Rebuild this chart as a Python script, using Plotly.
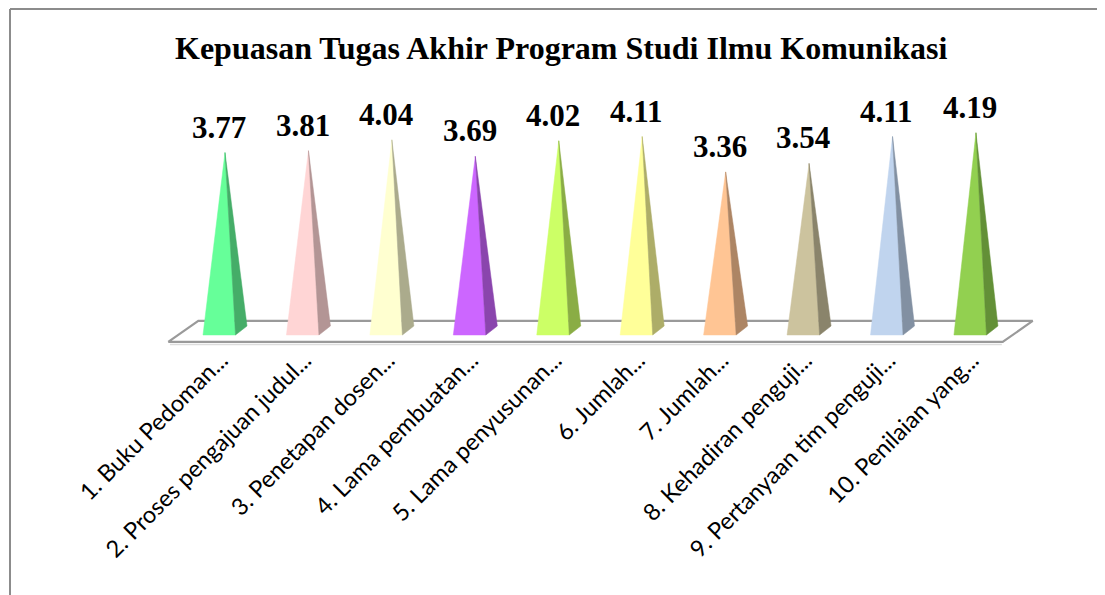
import plotly.graph_objects as go

# ---- data ----
categories = [
    "1. Buku Pedoman...",
    "2. Proses pengajuan judul...",
    "3. Penetapan dosen...",
    "4. Lama pembuatan...",
    "5. Lama penyusunan...",
    "6. Jumlah...",
    "7. Jumlah...",
    "8. Kehadiran penguji...",
    "9. Pertanyaan tim penguji...",
    "10. Penilaian yang...",
]
values = [3.77, 3.81, 4.04, 3.69, 4.02, 4.11, 3.36, 3.54, 4.11, 4.19]
title_text = "Kepuasan Tugas Akhir Program Studi Ilmu Komunikasi"

# ---- styles ----
front_colors = ["#66FF99", "#FFD5D5", "#FFFFD0", "#CC66FF", "#CCFF66",
                "#FFFF99", "#FFC594", "#CCC39E", "#C0D4EE", "#92D050"]
side_colors = ["#45AD68", "#B39595", "#ABAB8C", "#8A45AD", "#8AAD45",
               "#ADAD68", "#AD8564", "#8A846B", "#8290A2", "#639037"]

OFF = 8                     # page body margin in the browser
W, H = 1105, 595
X0, DX = 225.0 - OFF, 83.44   # figure pixel of first category, pixels per category
Y0, KY = 330.5 - OFF, 47.2    # figure pixel of value 0, pixels per unit
T, B = 70, 342                # plot area top / bottom (figure pixels)

xr = [(0 - X0) / DX, (W - X0) / DX]
yr = [(Y0 - B) / KY, (Y0 - T) / KY]

def paper_x(p):
    return (p - OFF) / W

def paper_y(p):
    return (B - (p - OFF)) / (B - T)

# pyramid geometry (in data units)
half_w = 16.25 / DX
dep_x = 5.75 / DX
dep_y = 4.5 / KY

n = len(values)
xs = list(range(n))

fig = go.Figure()

# floor
fl_dx = 0.18
fl_c = -0.02
fl_dy = 0.222
floor_x = [-0.5 - fl_dx, n - 0.5 - fl_dx, n - 0.5 + fl_dx, -0.5 + fl_dx, -0.5 - fl_dx]
floor_y = [fl_c - fl_dy, fl_c - fl_dy, fl_c + fl_dy, fl_c + fl_dy, fl_c - fl_dy]
shadow_y = fl_c - fl_dy - 2.5 / KY
fig.add_trace(go.Scatter(x=[-0.5 - fl_dx + 0.02, n - 0.5 - fl_dx - 0.01], y=[shadow_y, shadow_y],
                         mode="lines", line=dict(color="#DDDDDD", width=1.5),
                         hoverinfo="skip", showlegend=False))
fig.add_trace(go.Scatter(x=floor_x, y=floor_y, mode="lines", fill="toself",
                         fillcolor="white", line=dict(color="#9A9A9A", width=2.2),
                         hoverinfo="skip", showlegend=False))

for i, v in enumerate(values):
    cx = xs[i]
    # front face
    fig.add_trace(go.Scatter(
        x=[cx - half_w - dep_x, cx + half_w - dep_x, cx, cx - half_w - dep_x],
        y=[-dep_y, -dep_y, v, -dep_y],
        mode="lines", fill="toself", fillcolor=front_colors[i],
        line=dict(color=front_colors[i], width=0.5),
        hoverinfo="skip", showlegend=False))
    # right side face
    fig.add_trace(go.Scatter(
        x=[cx + half_w - dep_x, cx + half_w + dep_x, cx, cx + half_w - dep_x],
        y=[-dep_y, dep_y, v, -dep_y],
        mode="lines", fill="toself", fillcolor=side_colors[i],
        line=dict(color=side_colors[i], width=0.5),
        hoverinfo="skip", showlegend=False))
    fig.add_annotation(x=cx - dep_x, y=v, text=f"<b>{v:.2f}</b>", showarrow=False,
                       xanchor="center", yanchor="bottom", yshift=6,
                       font=dict(family="Liberation Serif", size=31, color="black"))

fig.add_annotation(xref="paper", yref="paper", x=paper_x(561), y=paper_y(48),
                   text=f"<b>{title_text}</b>", showarrow=False,
                   xanchor="center", yanchor="middle",
                   font=dict(family="Liberation Serif", size=32, color="black"))

# chart border
fig.add_shape(type="line", xref="paper", yref="paper",
              x0=paper_x(10), x1=paper_x(10), y0=paper_y(9), y1=paper_y(620),
              line=dict(color="#8C8C8C", width=2))
fig.add_shape(type="line", xref="paper", yref="paper",
              x0=paper_x(10), x1=paper_x(1130), y0=paper_y(9), y1=paper_y(9),
              line=dict(color="#8C8C8C", width=2))

fig.update_xaxes(range=xr, tickmode="array", tickvals=xs, ticktext=categories,
                 tickangle=-45, showgrid=False, zeroline=False, showline=False,
                 ticks="", ticklabelshift=-4, ticklabelstandoff=-9,
                 tickfont=dict(family="Lato", size=23.5, color="black"))
fig.update_yaxes(range=yr, visible=False, showgrid=False, zeroline=False)

fig.update_layout(width=W, height=H, margin=dict(l=0, r=0, t=T, b=H - B),
                  plot_bgcolor="rgba(0,0,0,0)", paper_bgcolor="white", showlegend=False)

fig.write_html("out.html")
